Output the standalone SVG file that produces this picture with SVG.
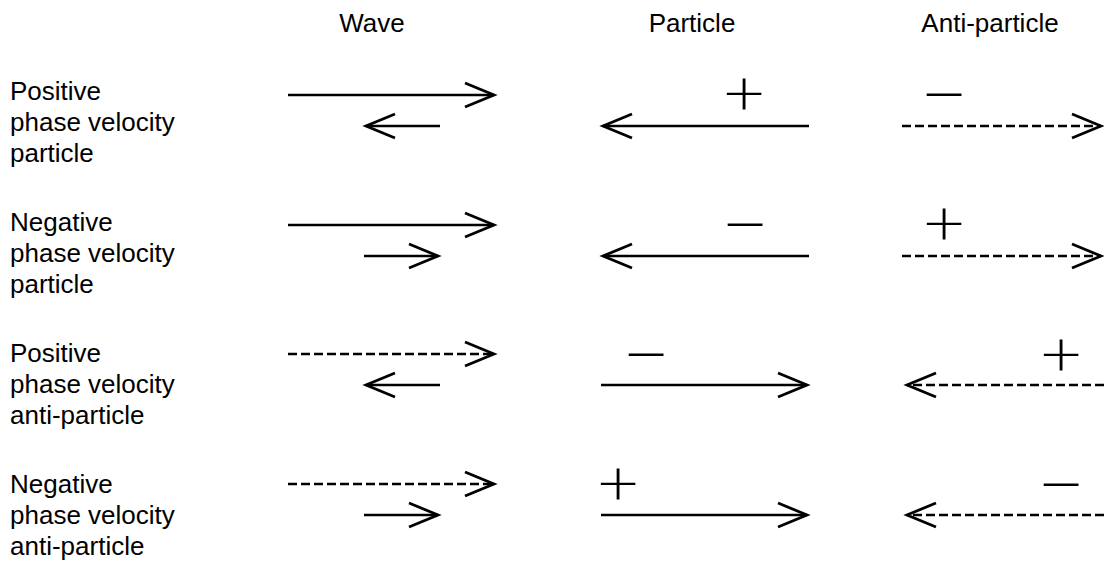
<svg xmlns="http://www.w3.org/2000/svg" width="1104" height="563" viewBox="0 0 1104 563">
<style>
text{font-family:"Liberation Sans",Arial,sans-serif;fill:#000}
.hd{font-size:26px;text-anchor:middle}
.lb{font-size:26px}
.sym{font-family:Lato,"Liberation Sans",sans-serif;font-weight:300;font-size:70px;text-anchor:middle}
.ln{fill:none;stroke:#000;stroke-width:2.3}
.ds{stroke-dasharray:9 4}
</style>
<defs>
<marker id="ah" markerUnits="userSpaceOnUse" markerWidth="40" markerHeight="40" viewBox="-34 -16 40 32" refX="0" refY="0" orient="auto" overflow="visible">
<path d="M-29,-12 L0,0 L-29,12" fill="none" stroke="#000" stroke-width="2.8" stroke-dasharray="none" stroke-linejoin="miter"/>
</marker>
</defs>
<g id="headers">
<text class="hd" x="372" y="32">Wave</text>
<text class="hd" x="692" y="32">Particle</text>
<text class="hd" x="990" y="32">Anti-particle</text>
</g>
<g id="row1">
<text class="lb" x="10" y="100">Positive</text>
<text class="lb" x="10" y="131">phase velocity</text>
<text class="lb" x="10" y="162">particle</text>
<text class="sym" transform="translate(744,114.7) scale(1.05,0.9)">+</text>
<text class="sym" transform="translate(944,119) scale(1.2,1)">−</text>
</g>
<g id="row2">
<text class="lb" x="10" y="231">Negative</text>
<text class="lb" x="10" y="262">phase velocity</text>
<text class="lb" x="10" y="293">particle</text>
<text class="sym" transform="translate(745,249) scale(1.2,1)">−</text>
<text class="sym" transform="translate(944,244.7) scale(1.05,0.9)">+</text>
</g>
<g id="row3">
<text class="lb" x="10" y="362">Positive</text>
<text class="lb" x="10" y="393">phase velocity</text>
<text class="lb" x="10" y="424">anti-particle</text>
<text class="sym" transform="translate(646,379) scale(1.2,1)">−</text>
<text class="sym" transform="translate(1061,375.7) scale(1.05,0.9)">+</text>
</g>
<g id="row4">
<text class="lb" x="10" y="493">Negative</text>
<text class="lb" x="10" y="524">phase velocity</text>
<text class="lb" x="10" y="555">anti-particle</text>
<text class="sym" transform="translate(618,504.7) scale(1.05,0.9)">+</text>
<text class="sym" transform="translate(1061,509) scale(1.2,1)">−</text>
</g>
<g id="connectors">
<path class="ln" d="M288,95 H494" marker-end="url(#ah)"/>
<path class="ln" d="M440,126 H366" marker-end="url(#ah)"/>
<path class="ln" d="M809,126 H603" marker-end="url(#ah)"/>
<path class="ln ds" d="M902,126 H1101" marker-end="url(#ah)"/>

<path class="ln" d="M288,225 H494" marker-end="url(#ah)"/>
<path class="ln" d="M364,256 H438" marker-end="url(#ah)"/>
<path class="ln" d="M809,256 H603" marker-end="url(#ah)"/>
<path class="ln ds" d="M902,256 H1101" marker-end="url(#ah)"/>

<path class="ln ds" d="M288,354 H494" marker-end="url(#ah)"/>
<path class="ln" d="M440,385 H366" marker-end="url(#ah)"/>
<path class="ln" d="M601,385 H807" marker-end="url(#ah)"/>
<path class="ln ds" d="M1104,385 H907" marker-end="url(#ah)"/>

<path class="ln ds" d="M288,484 H494" marker-end="url(#ah)"/>
<path class="ln" d="M364,515 H438" marker-end="url(#ah)"/>
<path class="ln" d="M601,515 H807" marker-end="url(#ah)"/>
<path class="ln ds" d="M1104,515 H907" marker-end="url(#ah)"/>
</g>
</svg>
